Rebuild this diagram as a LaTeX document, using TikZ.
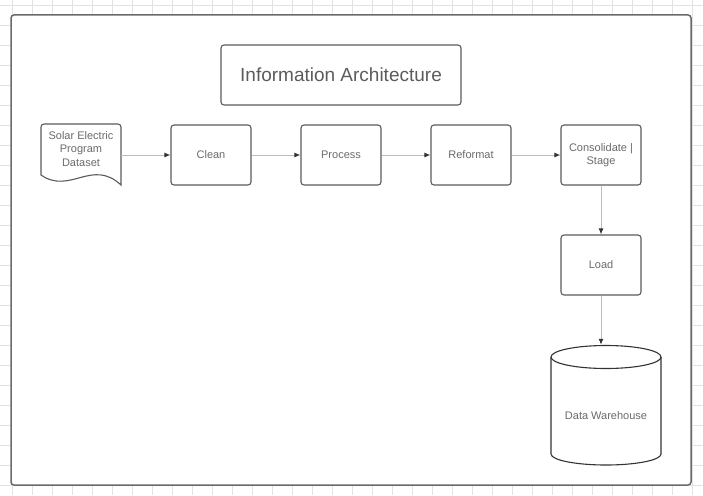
\documentclass[tikz,border=0pt]{standalone}
\usepackage{fontspec}
\setmainfont{Liberation Sans}
\usetikzlibrary{arrows.meta}
\definecolor{gridc}{HTML}{E2E2E2}
\definecolor{framec}{HTML}{6A6A6A}
\definecolor{boxc}{HTML}{5C5C5C}
\definecolor{txtc}{HTML}{6B6B6B}
\definecolor{linec}{HTML}{BDBDBD}
\definecolor{tipc}{HTML}{333333}
\definecolor{cylc}{HTML}{333333}
\tikzset{
  procbox/.style={draw=boxc, line width=1.1pt, rounded corners=3pt, minimum width=80pt, minimum height=60pt, inner sep=0pt, align=center, font=\fontsize{11}{13.5}\selectfont, text=txtc},
  flow/.style={draw=linec, line width=1pt, -{Latex[length=6pt,width=5pt,color=tipc]}},
}
\begin{document}
\begin{tikzpicture}[x=1pt,y=-1pt]
\useasboundingbox (0,0) rectangle (703,495);
% grid
\foreach \gx in {12,32,...,692} \draw[gridc, line width=0.8pt] (\gx,0) -- (\gx,495);
\foreach \gy in {5,25,...,495} \draw[gridc, line width=0.8pt] (0,\gy) -- (703,\gy);
% frame
\node[draw=framec, fill=white, line width=1.5pt, rounded corners=3pt, minimum width=680pt, minimum height=470pt, inner sep=0pt] (frame) at (351,250) {};
% title
\node[procbox, minimum width=240pt, minimum height=60pt, font=\fontsize{19}{22}\selectfont, text=boxc] (title) at (341,75) {Information Architecture};
% document shape
\draw[draw=boxc, line width=1.1pt] (41,175) [rounded corners=3pt] -- (41,124) -- (121,124) [sharp corners] -- (121,185) .. controls (92,158) and (70,195) .. (41,175) -- cycle;
\node[inner sep=0pt, minimum width=80pt, minimum height=60pt] (doc) at (81,155) {};
\node[align=center, font=\fontsize{11}{13.5}\selectfont, text=txtc, inner sep=0pt] (doctext) at (81,149) {Solar Electric\\Program\\Dataset};
% process boxes
\node[procbox] (clean) at (211,155) {Clean};
\node[procbox] (process) at (341,155) {Process};
\node[procbox] (reformat) at (471,155) {Reformat};
\node[procbox] (consol) at (601,155) {Consolidate |\\Stage};
\node[procbox] (load) at (601,265) {Load};
% cylinder
\draw[cylc, line width=1.1pt] (551,357) -- (551,454) arc[start angle=180, end angle=0, x radius=55, y radius=11] -- (661,357);
\draw[cylc, line width=1.1pt] (606,357) ellipse[x radius=55, y radius=11.5];
\node[inner sep=0pt, minimum width=110pt, minimum height=120pt] (dw) at (606,405) {};
\node[inner sep=0pt, font=\fontsize{11}{13.5}\selectfont, text=txtc] (dwtext) at (606,416) {Data Warehouse};
% connectors
\draw[flow] (doc.east) -- (clean.west);
\draw[flow] (clean) -- (process);
\draw[flow] (process) -- (reformat);
\draw[flow] (reformat) -- (consol);
\draw[flow] (consol) -- (load);
\draw[flow] (load.south) -- (load.south |- dw.north);
\end{tikzpicture}
\end{document}
